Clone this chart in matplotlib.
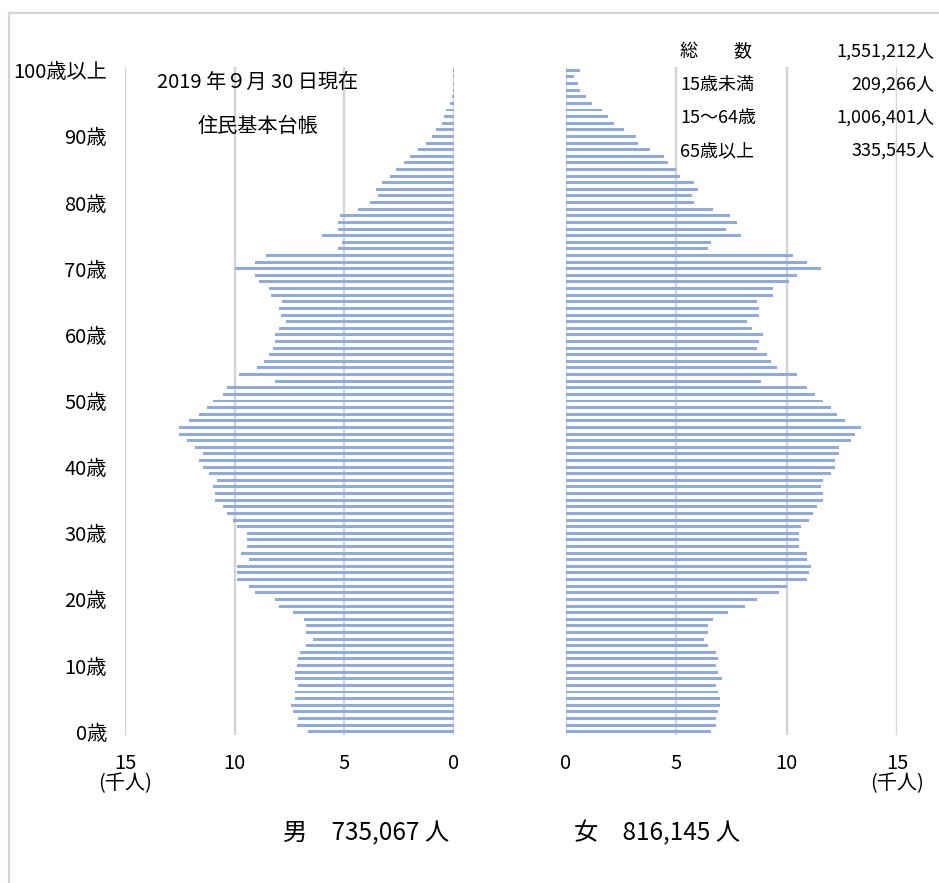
import matplotlib
matplotlib.use("Agg")
import matplotlib.pyplot as plt
import numpy as np

plt.rcParams["font.family"] = ["Noto Sans CJK JP", "DejaVu Sans"]

# population by single year of age (thousands), ages 0..100+
ages = list(range(101))
male = [
    6.64, 7.18, 7.09, 7.36, 7.45, 7.27, 7.27, 7.09, 7.27, 7.27,
    7.18, 7.09, 7.00, 6.73, 6.45, 6.73, 6.73, 6.82, 7.36, 8.00,
    8.18, 9.09, 9.36, 9.91, 9.91, 9.91, 9.36, 9.73, 9.45, 9.45,
    9.45, 9.91, 10.09, 10.36, 10.55, 10.91, 10.91, 11.00, 10.82, 11.18,
    11.45, 11.64, 11.45, 11.82, 12.18, 12.55, 12.55, 12.09, 11.64, 11.27,
    11.00, 10.55, 10.36, 8.18, 9.82, 9.00, 8.64, 8.45, 8.27, 8.18,
    8.18, 8.00, 7.64, 7.91, 8.00, 7.82, 8.36, 8.45, 8.91, 9.09,
    10.00, 9.09, 8.55, 5.27, 5.09, 6.00, 5.27, 5.27, 5.18, 4.36,
    3.82, 3.45, 3.55, 3.27, 2.91, 2.64, 2.27, 2.00, 1.64, 1.27,
    1.00, 0.82, 0.55, 0.45, 0.36, 0.18, 0.09, 0.06, 0.04, 0.03,
    0.04,
]
female = [
    6.55, 6.82, 6.82, 6.91, 7.00, 7.00, 6.91, 6.82, 7.09, 6.91,
    6.82, 6.91, 6.82, 6.45, 6.27, 6.45, 6.45, 6.64, 7.36, 8.09,
    8.64, 9.64, 10.00, 10.91, 11.00, 11.09, 10.91, 10.91, 10.55, 10.55,
    10.55, 10.64, 11.00, 11.18, 11.36, 11.64, 11.64, 11.55, 11.64, 12.00,
    12.18, 12.18, 12.36, 12.36, 12.91, 13.09, 13.36, 12.64, 12.27, 12.00,
    11.64, 11.27, 10.91, 8.82, 10.45, 9.55, 9.27, 9.09, 8.64, 8.73,
    8.91, 8.45, 8.18, 8.73, 8.73, 8.64, 9.36, 9.36, 10.09, 10.45,
    11.55, 10.91, 10.27, 6.45, 6.55, 7.91, 7.27, 7.73, 7.45, 6.64,
    5.82, 5.73, 6.00, 5.82, 5.18, 5.00, 4.64, 4.45, 3.82, 3.27,
    3.18, 2.64, 2.18, 1.91, 1.64, 1.18, 0.91, 0.64, 0.55, 0.36,
    0.64,
]

age_ticks = [0, 10, 20, 30, 40, 50, 60, 70, 80, 90, 100]
age_labels = ["0歳", "10歳", "20歳", "30歳", "40歳", "50歳",
              "60歳", "70歳", "80歳", "90歳", "100歳以上"]
x_ticks = [0, 5, 10, 15]
x_labels = ["0", "5", "10", "15\n(千人)"]

summary_names = ["総\u3000\u3000数", "15歳未満", "15～64歳", "65歳以上"]
summary_values = ["1,551,212人", "209,266人", "1,006,401人", "335,545人"]
male_total = "男\u3000735,067 人"
female_total = "女\u3000816,145 人"

W, H = 939, 883
BAR = "#8FAADC"
GRID = "#D4D4D4"

fig = plt.figure(figsize=(W / 100, H / 100), dpi=100)


def px(x, y):
    return x / W, 1 - y / H


ax_m = fig.add_axes([125 / W, 1 - 735 / H, 329 / W, 668 / H])
ax_f = fig.add_axes([566 / W, 1 - 735 / H, 331 / W, 668 / H])

for ax, vals in ((ax_m, male), (ax_f, female)):
    ax.barh(ages, vals, height=0.45, color=BAR, zorder=2)
    ax.set_xlim(0, 15)
    ax.set_ylim(-0.5, 100.5)
    ax.set_xticks(x_ticks)
    ax.set_xticklabels(x_labels, fontsize=14.5, linespacing=0.95, va="top")
    ax.tick_params(axis="x", length=0, pad=13)
    ax.xaxis.grid(True, color=GRID, linewidth=1.7, zorder=0)
    ax.set_axisbelow(True)
    for s in ax.spines.values():
        s.set_visible(False)

ax_m.invert_xaxis()
ax_m.set_yticks(age_ticks)
ax_m.set_yticklabels(age_labels, fontsize=14.5)
ax_m.tick_params(axis="y", length=0, pad=13)
ax_f.set_yticks([])

# annotation texts
fig.text(*px(258, 82), "2019 年９月 30 日現在", fontsize=14.5, ha="center", va="center")
fig.text(*px(258, 127), "住民基本台帳", fontsize=14.5, ha="center", va="center")

for i, (name, val) in enumerate(zip(summary_names, summary_values)):
    y = 52 + i * 33
    fig.text(*px(680, y), name, fontsize=13, ha="left", va="center")
    fig.text(*px(934, y), val, fontsize=13, ha="right", va="center")

fig.text(*px(366, 833), male_total, fontsize=17.5, ha="center", va="center")
fig.text(*px(657, 833), female_total, fontsize=17.5, ha="center", va="center")

# outer frame (left and top edges visible)
fig.add_artist(plt.Line2D([9 / W, 9 / W], [0, 1 - 13 / H], transform=fig.transFigure,
                          color=GRID, linewidth=1.6))
fig.add_artist(plt.Line2D([9 / W, 1], [1 - 13 / H, 1 - 13 / H], transform=fig.transFigure,
                          color=GRID, linewidth=1.6))

fig.savefig("out.png", dpi=100)
plt.close(fig)
